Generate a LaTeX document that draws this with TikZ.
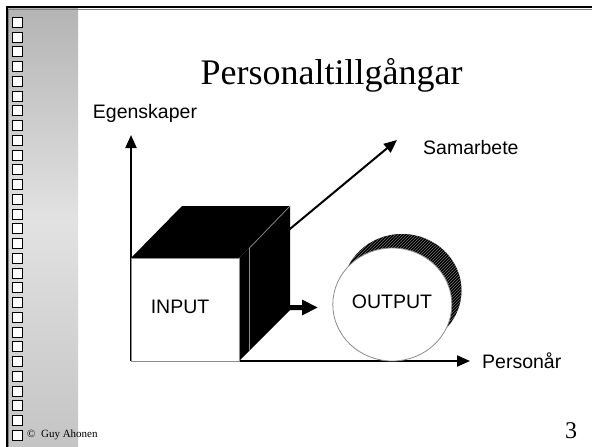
\documentclass[tikz,border=0pt]{standalone}
\usepackage{fontspec}
\setmainfont{Liberation Serif}
\newfontfamily\arialf{Liberation Sans}
\usetikzlibrary{arrows.meta,patterns,shapes.geometric}
\definecolor{stripTop}{HTML}{B4B4B4}
\definecolor{stripMid}{HTML}{E2E2E2}
\definecolor{stripBot}{HTML}{C4C4C4}
\definecolor{edgegray}{HTML}{8C8C8C}
\tikzset{
  axisline/.style={line width=2pt,-{Triangle[length=13pt,width=11pt]}},
  lbl/.style={font=\arialf\fontsize{19.5}{22}\selectfont,inner sep=0pt,anchor=base},
  sq/.style={draw=black,line width=0.9pt,fill=white,minimum width=10pt,minimum height=10pt,inner sep=0pt},
}
\begin{document}
\begin{tikzpicture}[x=1pt,y=-1pt]
\useasboundingbox (0,0) rectangle (592,447);
\fill[white] (0,0) rectangle (592,447);
% left strip
\shade[top color=stripTop,bottom color=stripMid] (8,8) rectangle (78,220);
\shade[top color=stripMid,bottom color=stripBot] (8,219.5) rectangle (78,447);
% frame
\draw[gray,line width=1pt] (8,9.3) -- (592,9.3);
\draw[gray,line width=1pt] (8.3,9) -- (8.3,447);
\draw[line width=2pt] (6,7) -- (592,7);
\draw[line width=2pt] (7,6) -- (7,447);
% squares
\foreach \i in {0,...,28}{
  \node[sq] (sq\i) at (17.3,{22.3+14.75*\i}) {};
}
% title
\node[font=\fontsize{36}{40}\selectfont,inner sep=0pt,anchor=base] (title) at (331.5,84) {Personaltillgångar};
% axes
\coordinate (origin) at (131,361);
\coordinate (ytip) at (131,135);
\coordinate (xtip) at (470,361);
\coordinate (stip) at (397,140);
\draw[axisline] (origin) -- (ytip);
\draw[axisline] (origin) -- (xtip);
\draw[axisline] (origin) -- (stip);
\node[lbl] (egen) at (145,118.5) {Egenskaper};
\node[lbl,anchor=base west] (samar) at (423,154) {Samarbete};
\node[lbl,anchor=base west] (pers) at (482,368.5) {Personår};
% cube
\fill[black] (131,258) -- (182,206) -- (290,206) -- (239,258) -- cycle;
\fill[black] (239,258) -- (290,206) -- (290,310) -- (239,361) -- cycle;
\draw[edgegray,line width=0.7pt] (249.5,350.5) -- (249.5,248) -- (290,206);
\node[draw=edgegray,line width=1pt,fill=white,minimum width=108pt,minimum height=103pt,inner sep=0pt,anchor=north west] (input) at (131,258) {};
\node[lbl] (inputtxt) at (180,313) {INPUT};
% block arrow
\fill[black] (290,305) -- (302,305) -- (302,299.5) -- (317.5,307.5) -- (302,315.5) -- (302,310) -- (290,310) -- cycle;
% output
\fill[black] (402,290.5) ellipse [x radius=59.5,y radius=56.5];
\fill[pattern=north east lines,pattern color=black!55] (402,290.5) ellipse [x radius=59.5,y radius=56.5];
\node[ellipse,draw=edgegray,line width=0.8pt,fill=white,minimum width=119pt,minimum height=113pt,inner sep=0pt] (output) at (392.3,304.5) {};
\node[lbl] (outtxt) at (392,308.5) {OUTPUT};
% footer
\node[font=\fontsize{11}{13}\selectfont,inner sep=0pt,anchor=base west] (copy) at (27,437) {©\ \ Guy Ahonen};
\node[font=\fontsize{24}{28}\selectfont,inner sep=0pt,anchor=base] (pnum) at (571,438) {3};
\end{tikzpicture}
\end{document}
